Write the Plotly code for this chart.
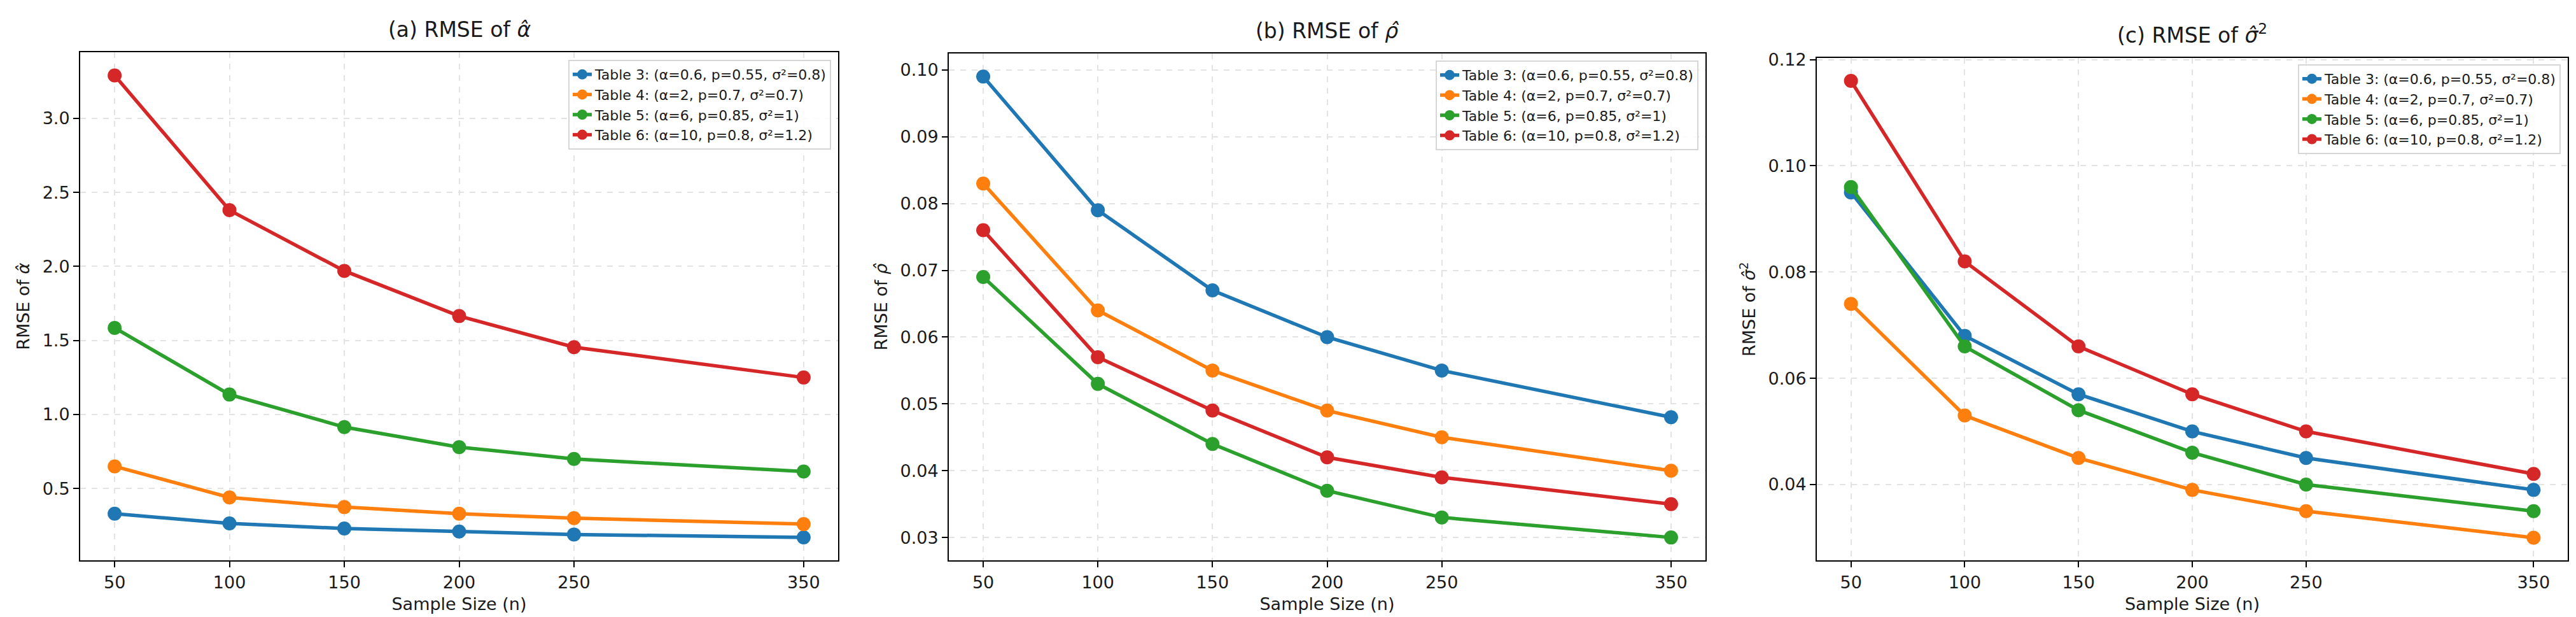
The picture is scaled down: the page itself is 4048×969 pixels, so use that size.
import plotly.graph_objects as go

W, H = 4048, 969

sample_sizes = [50, 100, 150, 200, 250, 350]
series_names = [
    "Table 3: (α=0.6, p=0.55, σ²=0.8)",
    "Table 4: (α=2, p=0.7, σ²=0.7)",
    "Table 5: (α=6, p=0.85, σ²=1)",
    "Table 6: (α=10, p=0.8, σ²=1.2)",
]
colors = ["#1f77b4", "#ff7f0e", "#2ca02c", "#d62728"]

rmse_alpha_t3 = [0.33, 0.265, 0.23, 0.21, 0.19, 0.17]
rmse_alpha_t4 = [0.65, 0.44, 0.375, 0.33, 0.30, 0.26]
rmse_alpha_t5 = [1.585, 1.135, 0.915, 0.78, 0.70, 0.615]
rmse_alpha_t6 = [3.29, 2.38, 1.97, 1.665, 1.455, 1.25]

rmse_p_t3 = [0.099, 0.079, 0.067, 0.060, 0.055, 0.048]
rmse_p_t4 = [0.083, 0.064, 0.055, 0.049, 0.045, 0.040]
rmse_p_t5 = [0.069, 0.053, 0.044, 0.037, 0.033, 0.030]
rmse_p_t6 = [0.076, 0.057, 0.049, 0.042, 0.039, 0.035]

rmse_s2_t3 = [0.095, 0.068, 0.057, 0.050, 0.045, 0.039]
rmse_s2_t4 = [0.074, 0.053, 0.045, 0.039, 0.035, 0.030]
rmse_s2_t5 = [0.096, 0.066, 0.054, 0.046, 0.040, 0.035]
rmse_s2_t6 = [0.116, 0.082, 0.066, 0.057, 0.050, 0.042]

alpha_ticks = [0.5, 1.0, 1.5, 2.0, 2.5, 3.0]
alpha_ticklabels = ["0.5", "1.0", "1.5", "2.0", "2.5", "3.0"]
p_ticks = [0.03, 0.04, 0.05, 0.06, 0.07, 0.08, 0.09, 0.10]
p_ticklabels = ["0.03", "0.04", "0.05", "0.06", "0.07", "0.08", "0.09", "0.10"]
s2_ticks = [0.04, 0.06, 0.08, 0.10, 0.12]
s2_ticklabels = ["0.04", "0.06", "0.08", "0.10", "0.12"]

panel_titles = [
    "(a) RMSE of <i>α̂</i>",
    "(b) RMSE of <i>ρ̂</i>",
    "(c) RMSE of <i>σ̂</i><sup>2</sup>",
]
y_titles = [
    "RMSE of <i>α̂</i>",
    "RMSE of <i>ρ̂</i>",
    "RMSE of <i>σ̂</i><sup>2</sup>",
]
x_title = "Sample Size (n)"

panels = [
    [rmse_alpha_t3, rmse_alpha_t4, rmse_alpha_t5, rmse_alpha_t6],
    [rmse_p_t3, rmse_p_t4, rmse_p_t5, rmse_p_t6],
    [rmse_s2_t3, rmse_s2_t4, rmse_s2_t5, rmse_s2_t6],
]
panel_ticks = [(alpha_ticks, alpha_ticklabels), (p_ticks, p_ticklabels), (s2_ticks, s2_ticklabels)]

# pixel layout of plot areas
px_x = [(118, 1309), (1483, 2672), (2847, 4027)]
px_top = [62, 64, 71]
px_bottom = 871
legend_px = [(1298, 74), (2661, 75), (4016, 81)]

FONT = "DejaVu Sans"
fig = go.Figure()

for i, data in enumerate(panels):
    xa = "x" if i == 0 else f"x{i+1}"
    ya = "y" if i == 0 else f"y{i+1}"
    lg = "legend" if i == 0 else f"legend{i+1}"
    for j, vals in enumerate(data):
        fig.add_trace(go.Scatter(
            x=sample_sizes, y=vals, mode="lines+markers", name=series_names[j],
            line=dict(color=colors[j], width=5.5),
            marker=dict(color=colors[j], size=22),
            xaxis=xa, yaxis=ya, legend=lg,
        ))

def pad_range(vals, frac=0.05):
    lo, hi = min(vals), max(vals)
    d = (hi - lo) * frac
    return [lo - d, hi + d]

axis_common = dict(
    showline=True, linecolor="black", linewidth=2, mirror=True,
    ticks="outside", ticklen=9, tickwidth=2, tickcolor="black",
    showgrid=True, gridcolor="#e3e3e3", gridwidth=2, griddash="dash",
    zeroline=False, tickfont=dict(family=FONT, size=27, color="#1a1a1a"),
)

layout = dict(
    width=W, height=H, paper_bgcolor="white", plot_bgcolor="white",
    margin=dict(l=0, r=0, t=0, b=0), font=dict(family=FONT, color="#1a1a1a"),
    showlegend=True,
)
annotations = []
for i, data in enumerate(panels):
    sfx = "" if i == 0 else str(i + 1)
    x0, x1 = px_x[i]
    y0 = 1 - px_bottom / H
    y1 = 1 - px_top[i] / H
    allv = [v for s in data for v in s]
    ticks, labels = panel_ticks[i]
    layout["xaxis" + sfx] = dict(
        axis_common, domain=[x0 / W, x1 / W], anchor="y" + sfx,
        range=pad_range(sample_sizes), tickvals=sample_sizes,
        ticktext=[str(v) for v in sample_sizes],
        title=dict(text=x_title, font=dict(family=FONT, size=27), standoff=10),
    )
    layout["yaxis" + sfx] = dict(
        axis_common, domain=[y0, y1], anchor="x" + sfx,
        range=pad_range(allv), tickvals=ticks, ticktext=labels,
        title=dict(text=y_titles[i], font=dict(family=FONT, size=27), standoff=12),
    )
    lx, ly = legend_px[i]
    layout["legend" + sfx] = dict(
        x=lx / W, y=1 - ly / H, xanchor="right", yanchor="top",
        xref="paper", yref="paper",
        bgcolor="rgba(255,255,255,0.85)", bordercolor="#d6d6d6", borderwidth=2,
        font=dict(family=FONT, size=22, color="#1a1a1a"),
    )
    annotations.append(dict(
        text=panel_titles[i], x=(x0 + x1) / 2 / W, y=1 - (px_top[i] - 14) / H,
        xref="paper", yref="paper", xanchor="center", yanchor="bottom",
        showarrow=False, font=dict(family=FONT, size=33, color="#1a1a1a"),
    ))
layout["annotations"] = annotations
fig.update_layout(**layout)

fig.write_html("out.html")
